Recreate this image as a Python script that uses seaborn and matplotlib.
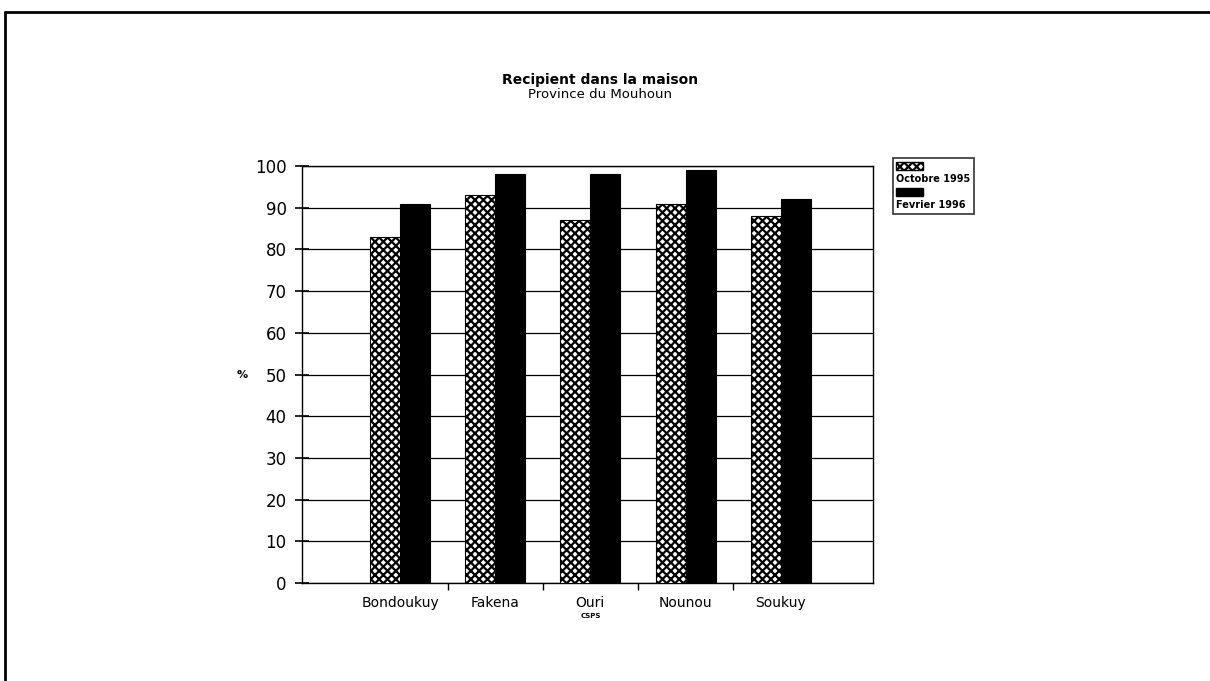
import pandas as pd
import matplotlib.pyplot as plt
import seaborn as sns
from matplotlib.lines import Line2D
from matplotlib.patches import Patch

# Data
villages = ["Bondoukuy", "Fakena", "Ouri", "Nounou", "Soukuy"]
octobre_1995 = [83, 93, 87, 91, 88]
fevrier_1996 = [91, 98, 98, 99, 92]
periods = ["Octobre 1995", "Fevrier 1996"]
y_ticks = list(range(0, 101, 10))

df = pd.DataFrame(
    {
        "village": villages * 2,
        "pct": octobre_1995 + fevrier_1996,
        "periode": [periods[0]] * len(villages) + [periods[1]] * len(villages),
    }
)

sns.set_theme(style="white")
plt.rcParams["font.family"] = ["DejaVu Sans"]
plt.rcParams["text.color"] = "black"
plt.rcParams["axes.labelcolor"] = "black"
plt.rcParams["xtick.color"] = "black"
plt.rcParams["ytick.color"] = "black"
plt.rcParams["hatch.linewidth"] = 1.6

fig = plt.figure(figsize=(12.1, 6.81), dpi=100)
ax = fig.add_axes([0.2496, 0.1439, 0.4719, 0.6123])

sns.barplot(
    data=df,
    x="village",
    y="pct",
    hue="periode",
    order=villages,
    hue_order=periods,
    palette=["white", "black"],
    edgecolor="black",
    linewidth=0.8,
    width=0.63,
    gap=0,
    legend=False,
    ax=ax,
    zorder=3,
)

# hatched pattern for the first period
for bar in ax.containers[0]:
    bar.set_hatch("xxxx")

ax.set_xlim(-1.03, 4.97)
ax.set_ylim(0, 100)
ax.set_yticks(y_ticks)
ax.yaxis.grid(True, color="black", linewidth=0.9)
ax.set_axisbelow(True)

for spine in ax.spines.values():
    spine.set_visible(True)
    spine.set_color("black")
    spine.set_linewidth(1.0)

ax.tick_params(axis="y", direction="inout", length=10, width=1.2,
               labelsize=12, left=True, pad=6)
ax.tick_params(axis="x", which="major", length=0, labelsize=10, pad=9)
ax.set_xticks([0.5, 1.5, 2.5, 3.5], minor=True)
ax.tick_params(axis="x", which="minor", direction="out", length=5,
               width=1.0, bottom=True)

ax.set_xlabel("")
ax.set_ylabel("%", rotation=0, fontsize=8, fontweight="bold", va="center")
ax.yaxis.set_label_coords(-0.105, 0.5)

# small note under Ouri
ax.annotate("CSPS", xy=(2, 0), xycoords=("data", "axes fraction"),
            xytext=(0, -24), textcoords="offset points",
            ha="center", va="center", fontsize=5, fontweight="bold")

# titles
fig.text(0.496, 0.883, "Recipient dans la maison", ha="center", va="center",
         fontsize=10, fontweight="bold")
fig.text(0.496, 0.861, "Province du Mouhoun", ha="center", va="center",
         fontsize=9.5)

# legend with swatch above each label
handles = [
    Patch(facecolor="white", edgecolor="black", hatch="xxxx"),
    Patch(visible=False),
    Patch(facecolor="black", edgecolor="black"),
    Patch(visible=False),
]
labels = ["", periods[0], "", periods[1]]
leg = fig.legend(
    handles,
    labels,
    loc="upper left",
    bbox_to_anchor=(0.738, 0.768),
    frameon=True,
    fancybox=False,
    edgecolor="black",
    prop={"size": 7, "weight": "bold"},
    handlelength=2.7,
    handleheight=0.8,
    handletextpad=-2.7,
    labelspacing=0.3,
    borderpad=0.35,
    borderaxespad=0,
)
leg.get_frame().set_linewidth(1.2)

# page border (left and top)
fig.add_artist(Line2D([0.004, 0.004], [0.0, 0.983], color="black", lw=2.0))
fig.add_artist(Line2D([0.004, 1.0], [0.983, 0.983], color="black", lw=2.0))

fig.savefig("out.png", dpi=100)
